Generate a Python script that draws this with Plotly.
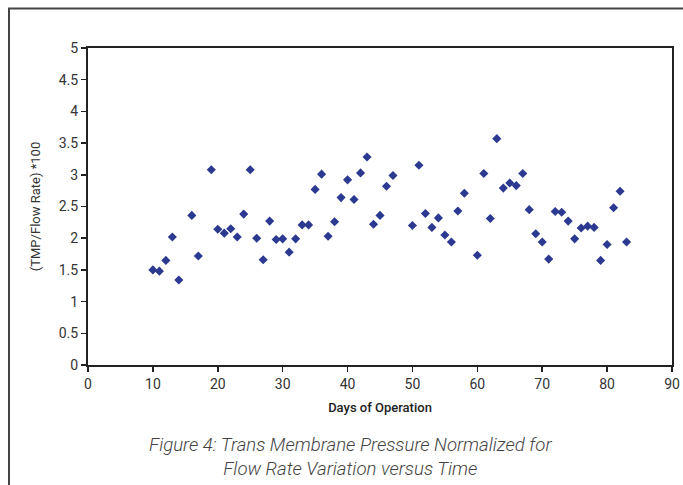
import plotly.graph_objects as go

days = [10, 11, 12, 13, 14, 16, 17, 19, 20, 21, 22, 23, 24, 25, 26, 27, 28, 29,
        30, 31, 32, 33, 34, 35, 36, 37, 38, 39, 40, 41, 42, 43, 44, 45, 46, 47,
        50, 51, 52, 53, 54, 55, 56, 57, 58,
        60, 61, 62, 63, 64, 65, 66, 67, 68, 69, 70, 71, 72, 73, 74, 75, 76, 77,
        78, 79, 80, 81, 82, 83]
tmp_norm = [1.50, 1.48, 1.65, 2.02, 1.34, 2.36, 1.72, 3.08, 2.14, 2.08, 2.15, 2.02,
            2.38, 3.08, 2.00, 1.66, 2.27, 1.98,
            1.99, 1.78, 1.99, 2.21, 2.21, 2.77, 3.01, 2.03, 2.26, 2.64, 2.92, 2.61,
            3.03, 3.28, 2.22, 2.36, 2.82, 2.99,
            2.20, 3.15, 2.39, 2.17, 2.32, 2.05, 1.94, 2.43, 2.71,
            1.73, 3.02, 2.31, 3.57, 2.79, 2.87, 2.83, 3.02, 2.45, 2.07, 1.94, 1.67,
            2.42, 2.41, 2.27, 1.99, 2.16, 2.19, 2.17, 1.65, 1.90, 2.48, 2.74, 1.94]

x_ticks = [0, 10, 20, 30, 40, 50, 60, 70, 80, 90]
y_ticks = [0, 0.5, 1, 1.5, 2, 2.5, 3, 3.5, 4, 4.5, 5]
y_tick_labels = ["0", "0.5", "1", "1.5", "2", "2.5", "3", "3.5", "4", "4.5", "5"]

x_title = "Days of Operation"
y_title = "(TMP/Flow Rate) *100"
caption = "Figure 4: Trans Membrane Pressure Normalized for<br>Flow Rate Variation versus Time"

font_fam = "Roboto, sans-serif"

fig = go.Figure()
fig.add_trace(go.Scatter(
    x=days, y=tmp_norm, mode="markers",
    marker=dict(symbol="diamond", size=7, color="#2B3990"),
    showlegend=False, hoverinfo="skip",
))

axis_common = dict(
    showgrid=False, zeroline=False, showline=True, linecolor="#222222",
    linewidth=2, mirror=True, ticks="outside", ticklen=5, tickwidth=1.5,
    tickcolor="#222222", automargin=False,
    tickfont=dict(family=font_fam, size=14, color="#333333"),
)

fig.update_layout(
    width=683, height=485,
    margin=dict(l=88, r=11, t=48, b=120),
    paper_bgcolor="white", plot_bgcolor="white",
    xaxis=dict(range=[0, 90], tickvals=x_ticks, **axis_common,
               title=dict(text=x_title, standoff=12,
                          font=dict(family=font_fam, size=13, color="#222222",
                                    weight=500))),
    yaxis=dict(range=[0, 5], tickvals=y_ticks, ticktext=y_tick_labels, **axis_common,
               title=dict(text=y_title, standoff=15,
                          font=dict(family=font_fam, size=13, color="#333333"))),
    shapes=[dict(type="rect", xref="paper", yref="paper",
                 x0=(9 - 88) / 584, x1=1.3, y0=-0.6, y1=(365 - 8.5) / 317,
                 line=dict(color="#444444", width=2), fillcolor="rgba(0,0,0,0)")],
    annotations=[dict(text=caption, xref="paper", yref="paper",
                      x=(350 - 88) / 584, y=(365 - 457) / 317,
                      xanchor="center", yanchor="middle", showarrow=False,
                      font=dict(family=font_fam, size=18.6, color="#444444",
                                style="italic", weight=300))],
)

fig.write_html("out.html", config={"displayModeBar": False, "staticPlot": True},
               post_script="document.body.style.margin='0';document.body.style.overflow='hidden';")
